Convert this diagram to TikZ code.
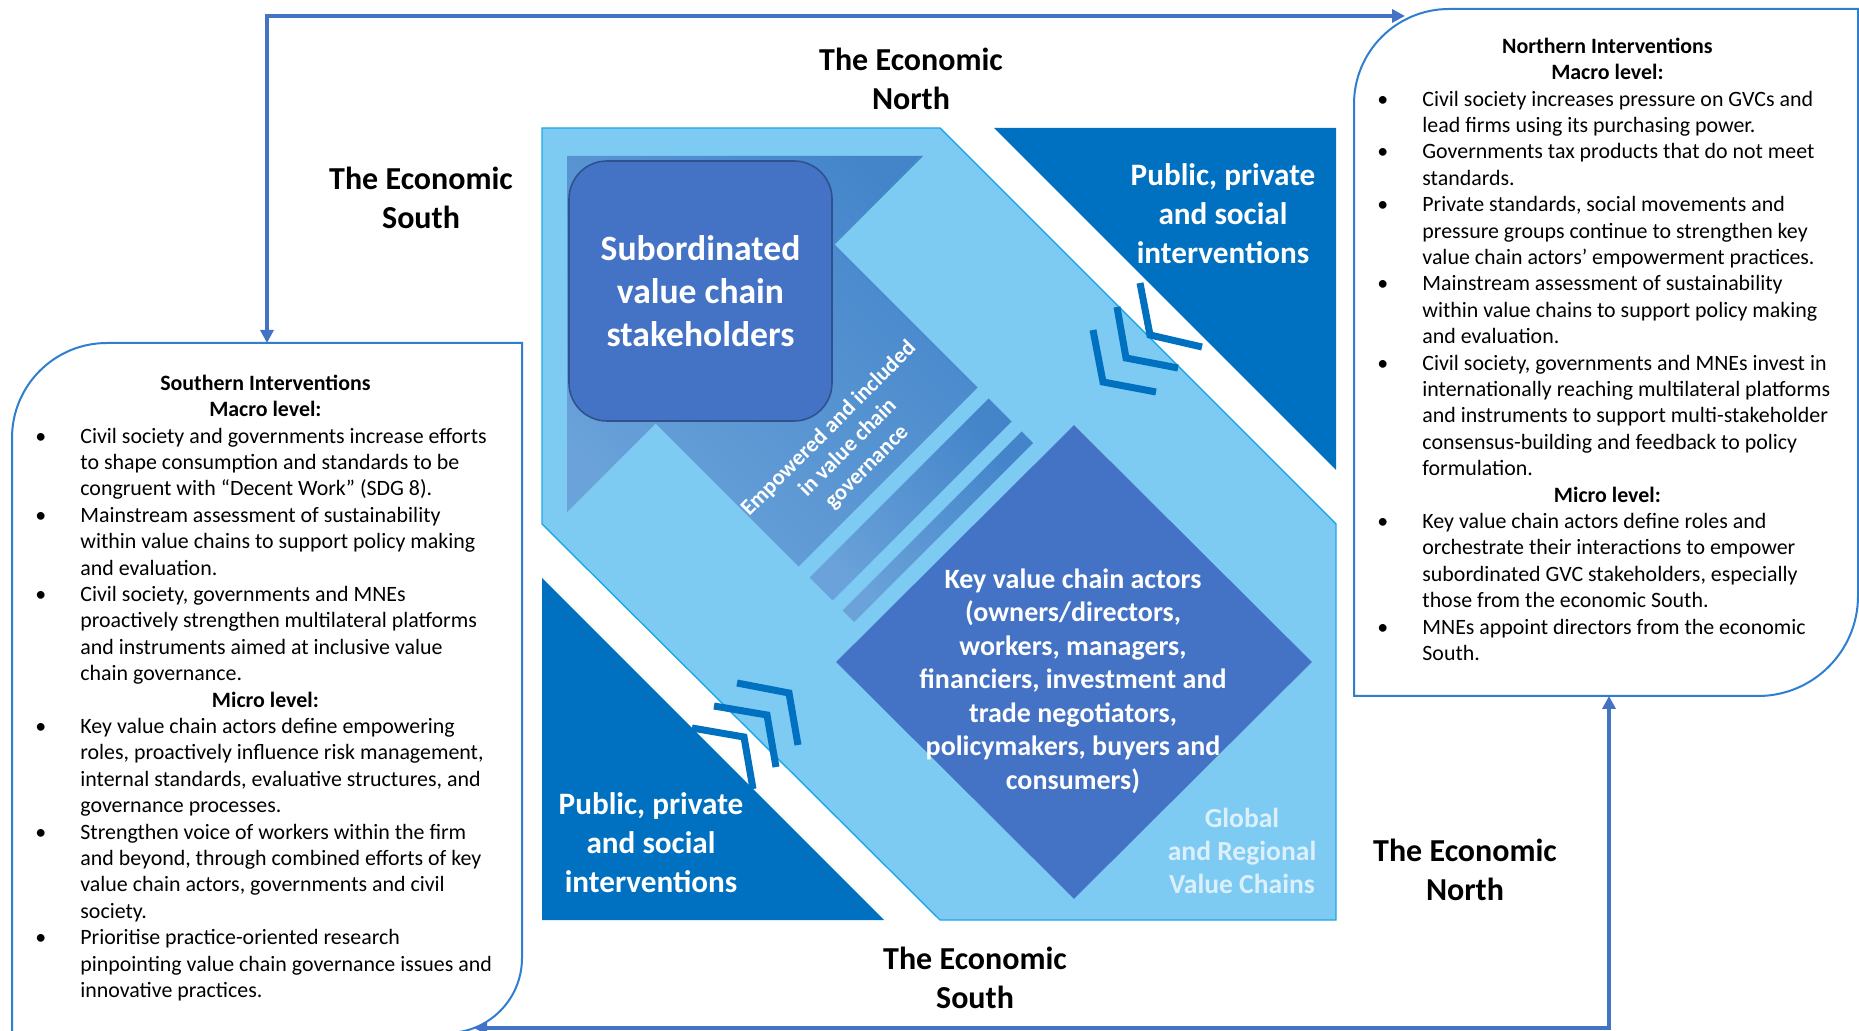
\documentclass[tikz,border=0pt]{standalone}
\usepackage{fontspec}
\setmainfont{Carlito}
\usetikzlibrary{arrows.meta,shapes.geometric}
\definecolor{lb}{HTML}{7DCBF2}
\definecolor{lbedge}{HTML}{1EA7E6}
\definecolor{db}{HTML}{0070C0}
\definecolor{acc}{HTML}{4472C4}
\definecolor{accedge}{HTML}{2F528F}
\definecolor{arrA}{HTML}{6AA2D9}
\definecolor{arrB}{HTML}{4485CA}
\definecolor{boxedge}{HTML}{2F7FD1}
\definecolor{connc}{HTML}{4472C4}
\definecolor{pale}{HTML}{DCF0FB}
\newcommand{\vbul}{\par\noindent\hangindent=22.5pt\hangafter=1\makebox[22.5pt][l]{\textbullet}}
\newcommand{\vhead}[1]{\par\noindent\makebox[230pt][c]{\strut\bfseries #1}}
\newcommand{\boxfont}{\fontsize{10.95pt}{13.2pt}\selectfont}
\begin{document}
\begin{tikzpicture}[x=0.5pt,y=-0.5pt,
  conn/.style={draw=connc, line width=2pt, {Triangle[length=6.5pt,width=6.5pt]}-{Triangle[length=6.5pt,width=6.5pt]}},
  ibox/.style={draw=boxedge, line width=1pt, fill=white},
  econ/.style={font=\fontsize{16pt}{19.5pt}\selectfont\bfseries, align=center, text=black, inner sep=0},
  wlab/.style={text=white, align=center, inner sep=0},
  chev/.style={draw=db, line width=3.5pt, line cap=butt, line join=miter},
  arrshade/.style={top color=arrB, bottom color=arrA, shading angle=-45},
  btext/.style={anchor=north west, inner sep=0}
]
\useasboundingbox (0,0) rectangle (1859,1031);
\clip (0,0) rectangle (1859,1031);
\fill[white] (0,0) rectangle (1859,1031);

% intervention boxes
\draw[ibox] (12,1033) -- (12,438) .. controls (12,385.5) and (54.5,343) .. (107,343) -- (522,343) -- (522,958) .. controls (522,999.4) and (488.6,1033) .. (447,1033) -- cycle;
\draw[ibox] (1858,9) -- (1449,9) .. controls (1396.5,9) and (1354,51.5) .. (1354,104) -- (1354,696) -- (1758,696) .. controls (1813.2,696) and (1858,651.2) .. (1858,596) -- cycle;

\node[btext] (stext) at (35,371.5) {\begin{minipage}[t]{270pt}\boxfont
\vhead{Southern Interventions}
\vhead{Macro level:}
\vbul Civil society and governments increase efforts\\to shape consumption and standards to be\\congruent with “Decent Work” (SDG 8).
\vbul Mainstream assessment of sustainability\\within value chains to support policy making\\and evaluation.
\vbul Civil society, governments and MNEs\\proactively strengthen multilateral platforms\\and instruments aimed at inclusive value\\chain governance.
\vhead{Micro level:}
\vbul Key value chain actors define empowering\\roles, proactively influence risk management,\\internal standards, evaluative structures, and\\governance processes.
\vbul Strengthen voice of workers within the firm\\and beyond, through combined efforts of key\\value chain actors, governments and civil\\society.
\vbul Prioritise practice-oriented research\\pinpointing value chain governance issues and\\innovative practices.
\end{minipage}};

\node[btext] (ntext) at (1377,34.5) {\begin{minipage}[t]{270pt}\boxfont
\vhead{Northern Interventions}
\vhead{Macro level:}
\vbul Civil society increases pressure on GVCs and\\lead firms using its purchasing power.
\vbul Governments tax products that do not meet\\standards.
\vbul Private standards, social movements and\\pressure groups continue to strengthen key\\value chain actors’ empowerment practices.
\vbul Mainstream assessment of sustainability\\within value chains to support policy making\\and evaluation.
\vbul Civil society, governments and MNEs invest in\\internationally reaching multilateral platforms\\and instruments to support multi-stakeholder\\consensus-building and feedback to policy\\formulation.
\vhead{Micro level:}
\vbul Key value chain actors define roles and\\orchestrate their interactions to empower\\subordinated GVC stakeholders, especially\\those from the economic South.
\vbul MNEs appoint directors from the economic\\South.
\end{minipage}};

% connectors
\coordinate (ltop) at (267,343);
\coordinate (rcurve) at (1405,16);
\coordinate (rbot) at (1609,696);
\coordinate (lcurve) at (474,1028);
\draw[conn] (ltop) |- (rcurve);
\draw[conn] (rbot) |- (lcurve);

% central panel
\fill[lb] (542,128) -- (940,128) -- (1336,524) -- (1336,920) -- (940,920) -- (542,524) -- cycle;
\draw[lbedge, line width=0.7pt] (542,128) -- (940,128) -- (1336,524) -- (1336,920) -- (940,920) -- (542,524) -- cycle;
\fill[db] (994,128) -- (1336,128) -- (1336,470) -- cycle;
\fill[db] (542,578) -- (542,920) -- (884,920) -- cycle;

% arrow shape and stripes
\shade[arrshade] (567,156) -- (923,156) -- (834.5,244.5) -- (977.5,387.5) -- (798.5,566.5) -- (655.5,423.5) -- (567,512) -- cycle;
\shade[arrshade] (988.5,398.5) -- (1011.5,421.5) -- (832.5,600.5) -- (809.5,577.5) -- cycle;
\shade[arrshade] (1021.5,431.5) -- (1033,443) -- (854,622) -- (842.5,610.5) -- cycle;

% diamond
\node[diamond, fill=acc, minimum width=238pt, minimum height=237pt, inner sep=0] (kdia) at (1074,662) {};

% rounded box
\node[draw=accedge, line width=0.8pt, fill=acc, rounded corners=19pt, minimum width=131.5pt, minimum height=130pt, inner sep=0, text=white, align=center, font=\fontsize{17.8pt}{21.5pt}\selectfont\bfseries] (sub) at (700.5,291) {Subordinated\\value chain\\stakeholders};

% chevrons
\draw[chev] (1140,283) -- (1150,335) -- (1202,347);
\draw[chev] (1117,307) -- (1126,358) -- (1178,368);
\draw[chev] (1093,330) -- (1103,382) -- (1156,392);
\draw[chev] (737,683) -- (789,693) -- (798,745);
\draw[chev] (714,706) -- (767,715) -- (776,767);
\draw[chev] (692,728) -- (744,737) -- (753,789);

% labels
\node[wlab, font=\fontsize{15.6pt}{19.5pt}\selectfont\bfseries] (pubtr) at (1223,214) {Public, private\\and social\\interventions};
\node[wlab, font=\fontsize{15.6pt}{19.5pt}\selectfont\bfseries] (pubbl) at (651,842.5) {Public, private\\and social\\interventions};
\node[wlab, font=\fontsize{14pt}{16.75pt}\selectfont\bfseries] (kva) at (1073,681) {Key value chain actors\\(owners/directors,\\workers, managers,\\financiers, investment and\\trade negotiators,\\policymakers, buyers and\\consumers)};
\node[wlab, text=pale, font=\fontsize{13.8pt}{16.5pt}\selectfont\bfseries] (grvc) at (1242,851) {Global\\and Regional\\Value Chains};
\node[wlab, rotate=45, font=\fontsize{11.2pt}{13.5pt}\selectfont\bfseries] (emp) at (848,448) {Empowered and included\\in value chain\\governance};

\node[econ] (nTop) at (911,78.5) {The Economic\\North};
\node[econ] (sLeft) at (421,197.5) {The Economic\\South};
\node[econ] (sBot) at (975,977.5) {The Economic\\South};
\node[econ] (nRight) at (1465,869.5) {The Economic\\North};
\end{tikzpicture}
\end{document}
